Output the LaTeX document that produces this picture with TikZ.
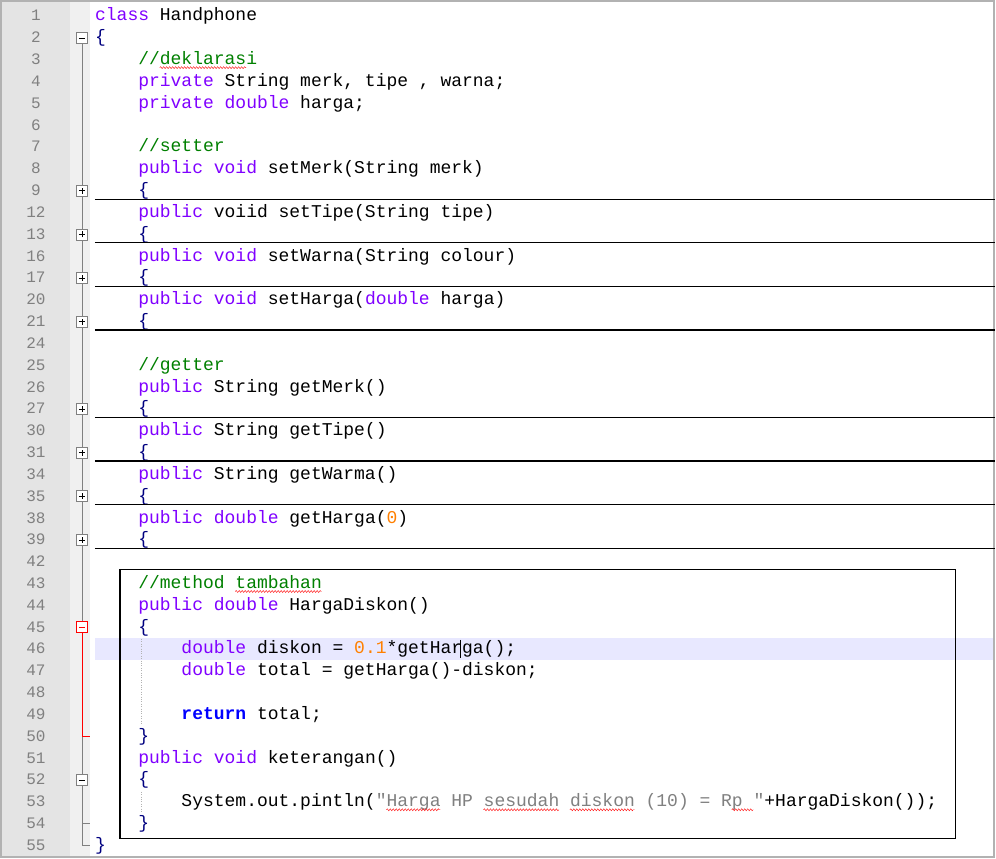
\documentclass[tikz,border=0pt]{standalone}
\usepackage{fontspec}
\setmonofont{Liberation Mono}
\usetikzlibrary{decorations.pathmorphing}
\definecolor{kwc}{HTML}{8000FF}
\definecolor{cmc}{HTML}{008000}
\definecolor{opc}{HTML}{000080}
\definecolor{numc}{HTML}{FF8000}
\definecolor{strc}{HTML}{808080}
\definecolor{gutc}{HTML}{E4E4E4}
\definecolor{hlc}{HTML}{E8E8FF}
\newcommand{\kw}[1]{\textcolor{kwc}{#1}}
\newcommand{\cm}[1]{\textcolor{cmc}{#1}}
\newcommand{\op}[1]{\textcolor{opc}{#1}}
\newcommand{\dy}{21.84}
\newcommand{\cw}{10.8}

\begin{document}
\begin{tikzpicture}[x=1pt,y=-1pt,
    code/.style={anchor=base west, inner sep=0pt, font=\ttfamily\fontsize{18}{20}\selectfont},
    lnum/.style={anchor=base, inner sep=0pt, text=strc, font=\ttfamily\fontsize{16}{20}\selectfont},
    fold/.style={draw=strc, fill=white, minimum size=11pt, inner sep=0pt},
    sep/.style={draw=black, line width=1.2pt},
    wavy/.style={draw=red, decorate, decoration={snake, amplitude=1pt, segment length=3pt}}]
    % background and margins
    \fill[white] (0,0) rectangle (996,859);
    \fill[gutc] (0,0) rectangle (70,859);
    \fill[gray!12] (70,0) rectangle (90,859);
    \fill[hlc] (95,638) rectangle (996,660);
    \draw[gray!60, line width=2pt] (1,1) rectangle (995,858);

    % line numbers
    \foreach \r/\n in {0/1,1/2,2/3,3/4,4/5,5/6,6/7,7/8,8/9,9/12,10/13,11/16,12/17,13/20,14/21,15/24,
        16/25,17/26,18/27,19/30,20/31,21/34,22/35,23/38,24/39,25/42,26/43,27/44,28/45,29/46,30/47,
        31/48,32/49,33/50,34/51,35/52,36/53,37/54,38/55}
        \node[lnum] (num-\n) at (36,{16+\dy*\r+5}) {\n};

    % fold tree
    \draw[strc] (82,{16+\dy*1}) -- (82,{16+\dy*38}) -- (90,{16+\dy*38});
    \draw[strc] (82,{16+\dy*37}) -- (90,{16+\dy*37});
    \foreach \r in {1,35} {
        \node[fold] (fold-\r) at (82,{16+\dy*\r}) {};
        \draw[black] ([xshift=-3pt]fold-\r.center) -- ([xshift=3pt]fold-\r.center);
    }
    \foreach \r in {8,10,12,14,18,20,22,24} {
        \node[fold] (fold-\r) at (82,{16+\dy*\r}) {};
        \draw[black] ([xshift=-3pt]fold-\r.center) -- ([xshift=3pt]fold-\r.center)
            ([yshift=-3pt]fold-\r.center) -- ([yshift=3pt]fold-\r.center);
    }
    \draw[red, line width=0.8pt] (82,{16+\dy*28}) -- (82,{16+\dy*33}) -- (90,{16+\dy*33});
    \node[fold, draw=red] (fold-28) at (82,{16+\dy*28}) {};
    \draw[red, line width=1pt] ([xshift=-3pt]fold-28.center) -- ([xshift=3pt]fold-28.center);

    % indent guides
    \draw[gray!60, dotted] (141,{16+\dy*29-10}) -- (141,{16+\dy*32+10});
    \draw[gray!60, dotted] (141,{16+\dy*36-10}) -- (141,{16+\dy*36+10});

    % code
    \foreach \r/\c/\t in {
        0/0/{\kw{class} Handphone},
        1/0/{\op{\{}},
        2/4/{\cm{//deklarasi}},
        3/4/{\kw{private} String merk, tipe , warna;},
        4/4/{\kw{private} \kw{double} harga;},
        6/4/{\cm{//setter}},
        7/4/{\kw{public} \kw{void} setMerk(String merk)},
        8/4/{\op{\{}},
        9/4/{\kw{public} voiid setTipe(String tipe)},
        10/4/{\op{\{}},
        11/4/{\kw{public} \kw{void} setWarna(String colour)},
        12/4/{\op{\{}},
        13/4/{\kw{public} \kw{void} setHarga(\kw{double} harga)},
        14/4/{\op{\{}},
        16/4/{\cm{//getter}},
        17/4/{\kw{public} String getMerk()},
        18/4/{\op{\{}},
        19/4/{\kw{public} String getTipe()},
        20/4/{\op{\{}},
        21/4/{\kw{public} String getWarma()},
        22/4/{\op{\{}},
        23/4/{\kw{public} \kw{double} getHarga(\textcolor{numc}{0})},
        24/4/{\op{\{}},
        26/4/{\cm{//method tambahan}},
        27/4/{\kw{public} \kw{double} HargaDiskon()},
        28/4/{\op{\{}},
        29/8/{\kw{double} diskon = \textcolor{numc}{0.1}*getHarga();},
        30/8/{\kw{double} total = getHarga()-diskon;},
        32/8/{\textcolor{blue}{\bfseries return} total;},
        33/4/{\op{\}}},
        34/4/{\kw{public} \kw{void} keterangan()},
        35/4/{\op{\{}},
        36/8/{System.out.pintln(\textcolor{strc}{"Harga HP sesudah diskon (10) = Rp "}+HargaDiskon());},
        37/4/{\op{\}}},
        38/0/{\op{\}}}}
        \node[code] (code-\r) at ({95+\cw*\c},{16+\dy*\r+5}) {\t};

    % collapsed blocks
    \foreach \r in {8,10,12,14,18,20,22,24}
        \draw[sep] (95,{16+\dy*\r+8.5}) -- (996,{16+\dy*\r+8.5});

    % spelling marks
    \draw[wavy] ({95+\cw*6},{16+\dy*2+8}) -- ({95+\cw*14},{16+\dy*2+8});
    \draw[wavy] ({95+\cw*13},{16+\dy*26+8}) -- ({95+\cw*21},{16+\dy*26+8});
    \draw[wavy] ({95+\cw*27},{16+\dy*36+8}) -- ({95+\cw*32},{16+\dy*36+8});
    \draw[wavy] ({95+\cw*36},{16+\dy*36+8}) -- ({95+\cw*43},{16+\dy*36+8});
    \draw[wavy] ({95+\cw*44},{16+\dy*36+8}) -- ({95+\cw*50},{16+\dy*36+8});
    \draw[wavy] ({95+\cw*59},{16+\dy*36+8}) -- ({95+\cw*61},{16+\dy*36+8});

    % cursor
    \draw[black] ({95+\cw*34-2},{16+\dy*29-9}) -- ({95+\cw*34-2},{16+\dy*29+9});

    % highlight frame
    \draw[black, line width=1.5pt] (120,570) rectangle (956,839);
\end{tikzpicture}
\end{document}
